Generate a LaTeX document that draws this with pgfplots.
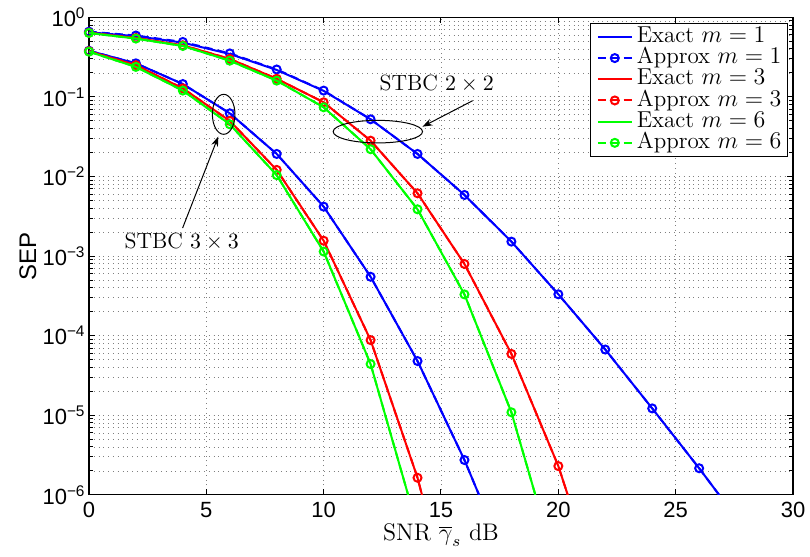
\documentclass[border=0pt]{standalone}
\usepackage{fontspec}
\setsansfont{Liberation Sans}
\usepackage{pgfplots}
\pgfplotsset{compat=1.18}
\usetikzlibrary{arrows.meta}

\begin{document}
\begin{tikzpicture}
\begin{axis}[
  scale only axis, width=352.2pt, height=238.9pt,
  ymode=log, xmin=0, xmax=30, ymin=1e-6, ymax=1,
  xtick={0,5,...,30},
  ytick={1e-6,1e-5,1e-4,1e-3,1e-2,1e-1,1},
  yticklabels={10\textsuperscript{−6},10\textsuperscript{−5},10\textsuperscript{−4},10\textsuperscript{−3},10\textsuperscript{−2},10\textsuperscript{−1},10\textsuperscript{0}},
  tick align=inside, xtick pos=both, ytick pos=both,
  major tick length=3pt, minor tick length=1.8pt,
  xmajorgrids, ymajorgrids, yminorgrids,
  major grid style={dotted, black!50, line width=0.4pt},
  minor grid style={dotted, black!50, line width=0.4pt},
  tick style={black, line width=0.5pt},
  axis line style={line width=0.6pt},
  ticklabel style={font=\sffamily\fontsize{11}{13}\selectfont},
  yticklabel style={inner sep=1.5pt},
  /pgf/number format/assume math mode=true,
  xlabel={SNR $\overline{\gamma}_s$ dB},
  xlabel style={font=\fontsize{12}{14}\selectfont, at={(axis description cs:0.5,-0.0837)}, anchor=center},
  ylabel={SEP},
  ylabel style={font=\sffamily\fontsize{12}{14}\selectfont, at={(axis description cs:-0.0866,0.5)}, anchor=center, rotate=0},
  clip mode=individual,
  legend style={at={(1,1)}, anchor=north east, xshift=-2.5pt, yshift=-2.85pt,
    font=\fontsize{11.5}{11.5}\selectfont, draw=black, line width=0.6pt,
    inner xsep=3pt, inner ysep=1.5pt, row sep=0.3pt, column sep=2pt,
    nodes={inner sep=0pt, text height=8pt, text depth=2.3pt},
    cells={anchor=west}},
  legend image post style={line width=1pt, mark indices={2}},
  every axis plot/.append style={line width=1pt},
]
% ---------------- STBC 3x3 ----------------
\addplot[color=blue] coordinates {(0,0.38) (2,0.264) (4,0.145) (6,0.0622) (8,0.0192) (10,0.00418) (12,5.5e-4) (14,4.8e-5) (16,2.74e-6) (16.62,1e-6)};
\addlegendentry{Exact $m=1$}
\addplot[color=blue, dash pattern=on 4pt off 2.5pt, mark=o, mark size=2pt, mark options={solid}, mark indices={1,...,9}] coordinates {(0,0.38) (2,0.264) (4,0.145) (6,0.0622) (8,0.0192) (10,0.00418) (12,5.5e-4) (14,4.8e-5) (16,2.74e-6) (16.62,1e-6)};
\addlegendentry{Approx $m=1$}
\addplot[color=red] coordinates {(0,0.375) (2,0.25) (4,0.128) (6,0.050) (8,0.0121) (10,0.00156) (12,8.8e-5) (14,1.64e-6) (14.19,1e-6)};
\addlegendentry{Exact $m=3$}
\addplot[color=red, dash pattern=on 4pt off 2.5pt, mark=o, mark size=2pt, mark options={solid}, mark indices={1,...,8}] coordinates {(0,0.375) (2,0.25) (4,0.128) (6,0.050) (8,0.0121) (10,0.00156) (12,8.8e-5) (14,1.64e-6) (14.19,1e-6)};
\addlegendentry{Approx $m=3$}
\addplot[color=green] coordinates {(0,0.37) (2,0.238) (4,0.12) (6,0.0453) (8,0.0104) (10,0.00114) (12,4.4e-5) (13.6,1e-6)};
\addlegendentry{Exact $m=6$}
\addplot[color=green, dash pattern=on 4pt off 2.5pt, mark=o, mark size=2pt, mark options={solid}, mark indices={1,...,7}] coordinates {(0,0.37) (2,0.238) (4,0.12) (6,0.0453) (8,0.0104) (10,0.00114) (12,4.4e-5) (13.6,1e-6)};
\addlegendentry{Approx $m=6$}
% ---------------- STBC 2x2 ----------------
\addplot[color=blue, forget plot] coordinates {(0,0.648) (2,0.58) (4,0.48) (6,0.346) (8,0.218) (10,0.119) (12,0.0523) (14,0.0192) (16,0.00586) (18,0.00152) (20,3.31e-4) (22,6.7e-5) (24,1.22e-5) (26,2.16e-6) (26.85,1e-6)};
\addplot[color=blue, forget plot, dash pattern=on 4pt off 2.5pt, mark=o, mark size=2pt, mark options={solid}, mark indices={1,...,14}] coordinates {(0,0.66) (2,0.59) (4,0.49) (6,0.352) (8,0.221) (10,0.12) (12,0.0523) (14,0.0192) (16,0.00586) (18,0.00152) (20,3.31e-4) (22,6.7e-5) (24,1.22e-5) (26,2.16e-6) (26.85,1e-6)};
\addplot[color=red, forget plot] coordinates {(0,0.64) (2,0.55) (4,0.445) (6,0.30) (8,0.169) (10,0.0855) (12,0.0282) (14,0.00615) (16,7.96e-4) (18,5.9e-5) (20,2.3e-6) (20.4,1e-6)};
\addplot[color=red, forget plot, dash pattern=on 4pt off 2.5pt, mark=o, mark size=2pt, mark options={solid}, mark indices={1,...,11}] coordinates {(0,0.64) (2,0.55) (4,0.445) (6,0.30) (8,0.169) (10,0.0855) (12,0.0282) (14,0.00615) (16,7.96e-4) (18,5.9e-5) (20,2.3e-6) (20.4,1e-6)};
\addplot[color=green, forget plot] coordinates {(0,0.635) (2,0.54) (4,0.436) (6,0.285) (8,0.16) (10,0.074) (12,0.022) (14,0.00387) (16,3.3e-4) (18,1.09e-5) (19.02,1e-6)};
\addplot[color=green, forget plot, dash pattern=on 4pt off 2.5pt, mark=o, mark size=2pt, mark options={solid}, mark indices={1,...,10}] coordinates {(0,0.635) (2,0.54) (4,0.436) (6,0.285) (8,0.16) (10,0.074) (12,0.022) (14,0.00387) (16,3.3e-4) (18,1.09e-5) (19.02,1e-6)};
% ---------------- annotations ----------------
\draw[line width=0.5pt] (axis cs:12.31,0.0366) ellipse [x radius=22.35pt, y radius=5.65pt];
\node[font=\fontsize{11}{13}\selectfont] at (axis cs:14.82,0.145) {STBC $2\times 2$};
\draw[line width=0.5pt, -{Stealth[length=5pt, width=3.5pt]}] (axis cs:16.35,0.0896) -- (axis cs:14.21,0.0422);
\draw[line width=0.5pt] (axis cs:5.74,0.0604) ellipse [x radius=5.65pt, y radius=10pt];
\node[font=\fontsize{11}{13}\selectfont] at (axis cs:3.95,1.52e-3) {STBC $3\times 3$};
\draw[line width=0.5pt, -{Stealth[length=5pt, width=3.5pt]}] (axis cs:3.99,2.25e-3) -- (axis cs:5.51,0.0318);
\end{axis}
\pgfresetboundingbox
\path[use as bounding box] ([xshift=-44.5pt,yshift=-31pt]current axis.south west) rectangle ([xshift=8.5pt,yshift=8.65pt]current axis.north east);
\end{tikzpicture}
\end{document}
